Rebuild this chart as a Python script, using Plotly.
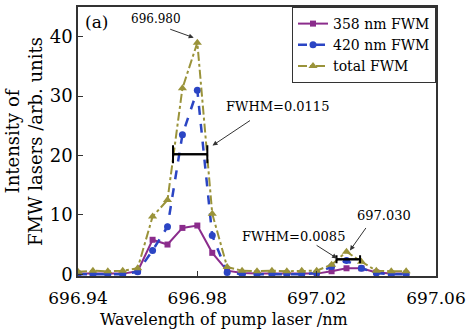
import plotly.graph_objects as go

wavelength = [696.940, 696.945, 696.950, 696.955, 696.960, 696.965, 696.970, 696.975,
              696.980, 696.985, 696.990, 696.995, 697.000, 697.005, 697.010, 697.015,
              697.020, 697.025, 697.030, 697.035, 697.040, 697.045, 697.050]
fwm358 = [0.1, 0.1, 0.1, 0.1, 0.5, 5.8, 5.0, 7.8, 8.2, 3.6, 0.6, 0.2, 0.1, 0.1, 0.1, 0.1,
          0.1, 0.5, 1.0, 1.0, 0.3, 0.1, 0.1]
fwm420 = [0.0, 0.0, 0.0, 0.0, 0.4, 4.0, 8.0, 23.5, 31.0, 6.5, 0.3, 0.0, 0.0, 0.0, 0.0, 0.0,
          0.2, 1.3, 2.3, 1.0, 0.2, 0.0, 0.0]
total = [0.4, 0.6, 0.5, 0.6, 1.0, 9.7, 12.5, 31.3, 39.0, 10.2, 1.2, 0.6, 0.5, 0.6, 0.5, 0.6,
         0.6, 1.6, 3.8, 2.1, 0.6, 0.5, 0.5]

fwhm_center = [696.9776, 697.0306]
fwhm_half = [0.00575, 0.00395]
fwhm_level = [20.2, 2.5]

FONT = "DejaVu Serif"
PURPLE = "#8B2C8C"
BLUE = "#2B45C4"
OLIVE = "#9A933A"

fig = go.Figure()
fig.add_trace(go.Scatter(x=wavelength, y=fwm358, name="358 nm FWM", mode="lines+markers",
                         line=dict(color=PURPLE, width=2),
                         marker=dict(symbol="square", size=6, color=PURPLE)))
fig.add_trace(go.Scatter(x=wavelength, y=fwm420, name="420 nm FWM", mode="lines+markers",
                         line=dict(color=BLUE, width=2.5, dash="dash"),
                         marker=dict(symbol="circle", size=7, color=BLUE)))
fig.add_trace(go.Scatter(x=wavelength, y=total, name="total FWM", mode="lines+markers",
                         line=dict(color=OLIVE, width=2, dash="dashdot"),
                         marker=dict(symbol="triangle-up", size=8, color=OLIVE)))
for c, h, lv, w in zip(fwhm_center, fwhm_half, fwhm_level, [9, 4]):
    fig.add_trace(go.Scatter(x=[c], y=[lv], mode="markers", showlegend=False,
                             marker=dict(size=1, color="rgba(0,0,0,0)"),
                             error_x=dict(type="data", array=[h], color="black",
                                          thickness=2, width=w)))
    fig.add_trace(go.Scatter(x=[c - h, c + h], y=[lv, lv], mode="lines", showlegend=False,
                             line=dict(color="black", width=2)))

def px2x(px):
    return 696.94 + (px - 78) / 362 * 0.12

def px2y(py):
    return (276 - py) / 6

annots = []
for tail, tip in [((170, 28), (195, 37)), ((253, 120), (214, 146)),
                  ((318, 246), (340, 260)), ((370, 228), (353, 252))]:
    annots.append(dict(x=px2x(tip[0]), y=px2y(tip[1]), xref="x", yref="y",
                       ax=tail[0] - tip[0], ay=tail[1] - tip[1], text="",
                       showarrow=True, arrowhead=2, arrowsize=1, arrowwidth=1,
                       arrowcolor="#333333"))
for txt, (cx, cy), sz in [("(a)", (97, 21), 17), ("696.980", (157, 18), 12),
                          ("FWHM=0.0115", (280, 107), 13), ("FWHM=0.0085", (296, 238), 13),
                          ("697.030", (387, 217), 13)]:
    annots.append(dict(x=px2x(cx), y=px2y(cy), xref="x", yref="y", text=txt,
                       xanchor="center", yanchor="middle",
                       showarrow=False, font=dict(family=FONT, size=sz, color="black")))
# x-axis title (placed as in the reference, slightly left of centre)
annots.append(dict(x=(226 - 78) / 362, y=(276 - 320) / 271, xref="paper", yref="paper",
                   xanchor="center", yanchor="middle",
                   text="Wavelength of pump laser /nm", showarrow=False,
                   font=dict(family=FONT, size=16, color="black")))

fig.update_layout(
    width=471, height=333,
    margin=dict(l=78, r=31, t=5, b=57),
    paper_bgcolor="white", plot_bgcolor="white",
    font=dict(family=FONT, color="black"),
    annotations=annots,
    legend=dict(x=1, y=1, xanchor="right", yanchor="top", bgcolor="white",
                bordercolor="#333333", borderwidth=1, font=dict(family=FONT, size=14),
                itemwidth=30, tracegroupgap=0),
    xaxis=dict(range=[696.94, 697.06], tickvals=[696.94, 696.98, 697.02, 697.06],
               ticktext=["696.94", "696.98", "697.02", "697.06"],
               ticks="inside", ticklen=5, tickcolor="#333333", showline=True,
               linecolor="#333333", linewidth=1.5, mirror=True, showgrid=False,
               zeroline=False, tickfont=dict(family=FONT, size=17), ticklabelstandoff=6),
    yaxis=dict(range=[-0.3, 45], tickvals=[0, 10, 20, 30, 40],
               ticks="inside", ticklen=5, tickcolor="#333333", showline=True,
               linecolor="#333333", linewidth=1.5, mirror=True, showgrid=False,
               zeroline=False, tickfont=dict(family=FONT, size=18),
               title=dict(text="Intensity of<br>FMW lasers /arb. units",
                          font=dict(family=FONT, size=18), standoff=2)),
)
fig.write_html("out.html")
